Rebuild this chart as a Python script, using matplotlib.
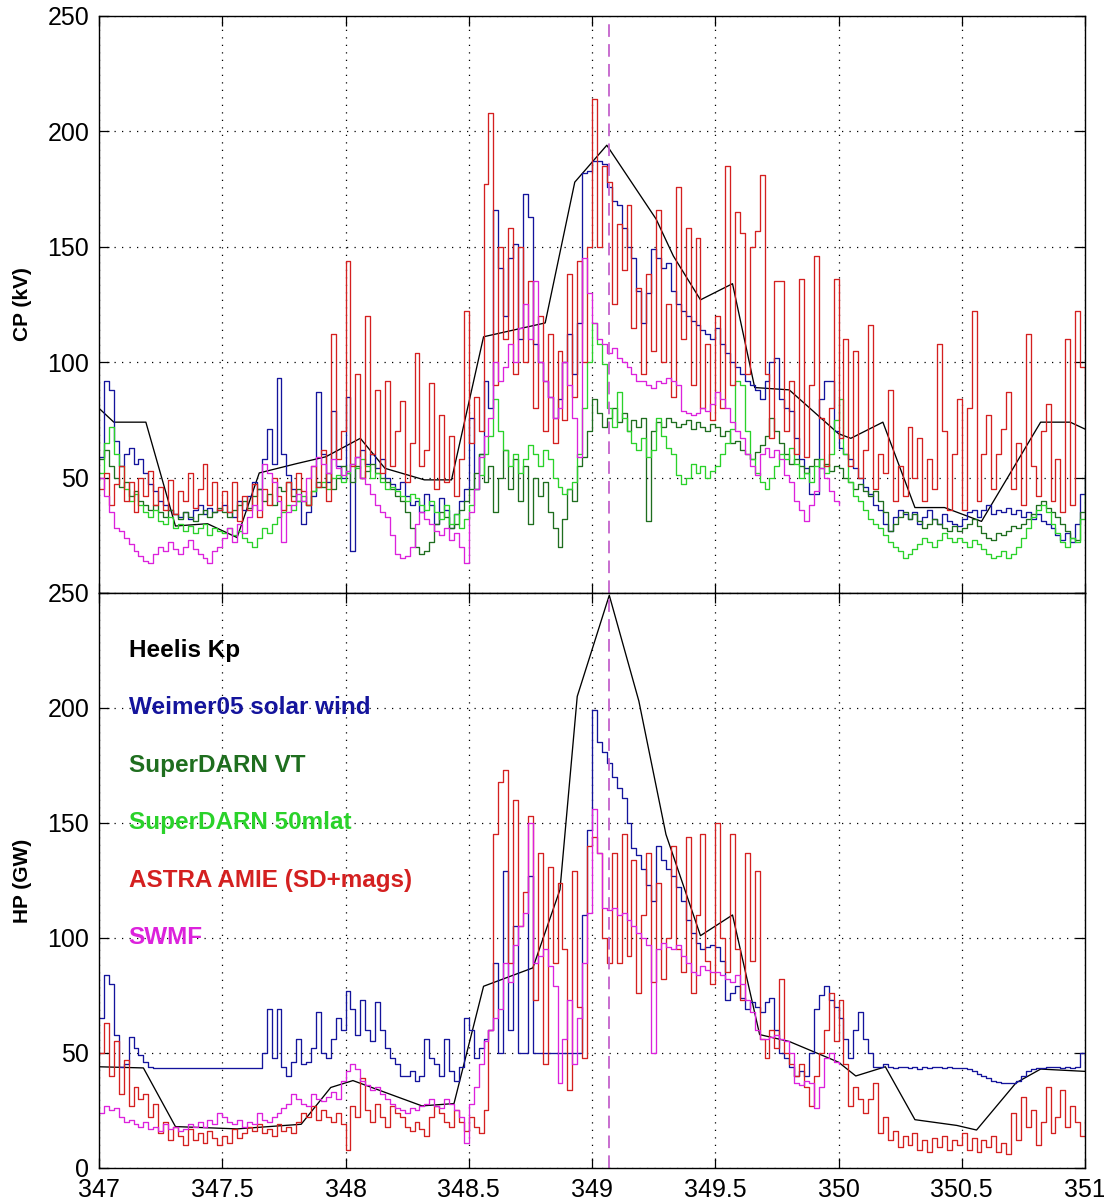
import numpy as np
import matplotlib
matplotlib.use("Agg")
import matplotlib.pyplot as plt

# cross polar cap potential (kV), samples every 0.02 day from day 347.0
cp_weimer = [59, 92, 88, 66, 55, 60, 63, 56, 58, 52, 47, 44, 40, 38, 36, 34, 33, 35, 32, 36, 38, 34, 37, 35, 36,
             38, 35, 33, 40, 36, 42, 48, 45, 58, 71, 56, 93, 60, 51, 45, 40, 30, 35, 42, 87, 60, 48, 79, 55, 50,
             85, 18, 59, 62, 56, 60, 54, 58, 50, 47, 45, 48, 42, 38, 40, 35, 43, 38, 30, 41, 36, 28, 34, 40, 45,
             76, 45, 60, 92, 80, 166, 141, 120, 145, 151, 110, 173, 163, 108, 100, 92, 85, 76, 84, 100, 112, 95, 117, 182, 183,
             187, 187, 186, 176, 170, 168, 158, 150, 145, 131, 117, 130, 149, 145, 141, 143, 131, 125, 122, 120, 118, 116, 114, 112, 110,
             115, 108, 104, 100, 98, 95, 92, 90, 88, 84, 92, 100, 102, 84, 80, 79, 67, 58, 54, 43, 43, 84, 92, 92, 70,
             63, 60, 58, 54, 50, 46, 43, 38, 36, 30, 27, 33, 36, 34, 32, 35, 30, 33, 36, 32, 30, 34, 31, 30, 29,
             32, 35, 36, 33, 36, 38, 34, 36, 35, 37, 34, 36, 33, 35, 32, 34, 31, 30, 28, 25, 23, 26, 22, 30, 43, 51]

cp_sd_vt = [58, 62, 55, 50, 46, 48, 42, 44, 40, 38, 36, 38, 35, 33, 36, 34, 32, 35, 33, 31, 34, 36, 33, 35, 37,
            35, 33, 36, 38, 40, 37, 42, 45, 40, 43, 38, 46, 44, 48, 42, 45, 40, 38, 44, 48, 46, 52, 45, 50, 55,
            52, 48, 55, 50, 53, 56, 52, 50, 48, 45, 42, 40, 35, 28, 20, 17, 18, 22, 30, 35, 33, 28, 30, 36, 40,
            45, 52, 60, 48, 55, 35, 50, 62, 45, 58, 40, 55, 30, 50, 42, 48, 35, 28, 20, 32, 45, 40, 55, 59, 70,
            84, 78, 72, 76, 80, 74, 78, 70, 75, 72, 76, 31, 70, 74, 72, 76, 74, 72, 73, 75, 71, 74, 72, 70, 73,
            72, 68, 70, 65, 66, 62, 60, 58, 61, 64, 68, 76, 70, 65, 60, 56, 58, 55, 52, 55, 58, 54, 56, 53, 55,
            54, 50, 48, 45, 47, 44, 42, 44, 40, 35, 27, 30, 33, 35, 32, 34, 31, 28, 30, 32, 30, 28, 27, 29, 27,
            28, 30, 32, 29, 26, 24, 23, 26, 25, 27, 29, 28, 30, 32, 34, 38, 40, 37, 35, 33, 30, 27, 24, 23, 35, 51]

cp_sd_50 = [52, 65, 72, 60, 55, 45, 40, 43, 38, 35, 33, 36, 31, 30, 33, 28, 30, 27, 29, 26, 28, 30, 25, 28, 27,
            26, 28, 25, 27, 24, 22, 20, 24, 28, 26, 30, 33, 35, 38, 36, 40, 42, 38, 44, 46, 48, 45, 50, 51, 48,
            52, 56, 54, 58, 55, 50, 52, 48, 45, 46, 44, 42, 40, 43, 41, 38, 36, 40, 35, 32, 38, 30, 34, 28, 32,
            38, 45, 51, 60, 68, 84, 70, 62, 55, 60, 52, 58, 64, 60, 55, 62, 58, 50, 46, 43, 45, 48, 60, 80, 100,
            117, 108, 99, 80, 72, 87, 76, 70, 65, 62, 67, 59, 62, 76, 68, 63, 60, 51, 47, 50, 56, 52, 55, 50, 53,
            55, 60, 65, 71, 92, 90, 70, 58, 52, 48, 45, 50, 55, 60, 58, 63, 56, 50, 52, 48, 55, 58, 52, 60, 75,
            84, 60, 48, 42, 40, 36, 32, 30, 28, 25, 22, 20, 18, 15, 17, 19, 21, 24, 22, 20, 23, 26, 24, 22, 24,
            22, 20, 23, 21, 19, 17, 15, 16, 18, 15, 17, 20, 24, 28, 33, 36, 38, 35, 30, 26, 22, 20, 24, 22, 32, 43]

cp_amie = [45, 52, 38, 47, 55, 40, 48, 35, 50, 42, 53, 38, 46, 36, 49, 34, 44, 40, 52, 37, 45, 56, 38, 48, 36,
           44, 35, 48, 31, 42, 36, 47, 33, 45, 38, 50, 42, 36, 48, 40, 52, 44, 38, 55, 46, 62, 40, 112, 58, 70,
           144, 55, 95, 50, 120, 60, 88, 52, 92, 55, 70, 83, 48, 65, 104, 55, 62, 91, 45, 77, 48, 68, 42, 58, 122,
           65, 85, 70, 177, 208, 90, 150, 110, 158, 95, 150, 100, 135, 80, 120, 70, 112, 65, 105, 75, 138, 85, 144, 100, 150,
           214, 150, 185, 178, 125, 160, 140, 168, 115, 132, 95, 138, 105, 166, 100, 125, 85, 176, 110, 158, 90, 154, 80, 108, 75,
           120, 80, 185, 90, 165, 156, 95, 150, 157, 181, 95, 67, 135, 135, 70, 92, 60, 136, 59, 90, 146, 76, 55, 80, 136,
           67, 110, 55, 105, 50, 62, 116, 45, 60, 52, 88, 40, 55, 42, 72, 50, 67, 40, 58, 45, 108, 70, 36, 60, 84,
           36, 80, 122, 40, 60, 77, 45, 60, 71, 87, 45, 65, 38, 112, 55, 42, 70, 82, 40, 58, 35, 110, 38, 122, 98, 76]

cp_swmf = [50, 42, 35, 28, 27, 24, 21, 18, 16, 14, 13, 17, 20, 18, 22, 19, 17, 20, 23, 19, 17, 15, 13, 18, 20,
           24, 28, 22, 30, 26, 33, 38, 36, 56, 52, 48, 40, 22, 35, 38, 43, 40, 50, 55, 59, 56, 52, 58, 54, 51,
           53, 56, 59, 50, 47, 43, 38, 35, 33, 25, 17, 15, 16, 20, 30, 35, 32, 30, 27, 25, 28, 23, 26, 20, 13,
           35, 45, 59, 68, 76, 100, 92, 98, 108, 100, 115, 125, 110, 135, 100, 92, 85, 76, 80, 100, 90, 76, 59, 145, 130,
           117, 110, 108, 104, 106, 102, 100, 98, 95, 92, 92, 90, 89, 92, 91, 93, 92, 90, 79, 78, 77, 78, 80, 79, 82,
           87, 84, 80, 74, 70, 67, 60, 55, 51, 60, 63, 59, 62, 58, 51, 48, 40, 36, 31, 38, 44, 54, 50, 44, 40,
           38]

# Heelis model driven by Kp: piecewise linear
kp_cp_days = [347.0, 347.06, 347.19, 347.31, 347.44, 347.56, 347.65, 347.80, 347.92, 348.06, 348.16,
              348.32, 348.43, 348.56, 348.81, 348.93, 349.06, 349.26, 349.33, 349.44, 349.57, 349.66,
              349.80, 350.0, 350.05, 350.18, 350.31, 350.43, 350.58, 350.82, 350.94, 351.0]
kp_cp = [80, 74, 74, 29, 30, 24, 52, 56, 59, 67, 54, 49, 49, 111, 117, 178, 194, 162, 146, 127, 134, 89,
         88, 69, 67, 74, 37, 37, 31, 74, 74, 71]

# hemispheric power (GW)
hp_weimer = [65, 84, 80, 58, 44, 45, 57, 52, 49, 46, 44, 43.5, 43.5, 43.5, 43.5, 43.5, 43.5, 43.5, 43.5, 43.5, 43.5, 43.5, 43.5, 43.5, 43.5,
             43.5, 43.5, 43.5, 43.5, 43.5, 43.5, 43.5, 43.5, 50, 69, 48, 69, 44, 40, 46, 56, 45, 46, 52, 68, 50, 48, 56, 65, 60,
             77, 69, 58, 73, 60, 55, 72, 60, 52, 48, 45, 40, 40, 42, 38, 40, 56, 48, 45, 40, 56, 42, 38, 44, 65,
             60, 48, 52, 56, 60, 89, 50, 129, 60, 105, 50, 50, 127, 50, 50, 50, 50, 50, 50, 50, 50, 50, 50, 110, 147,
             199, 185, 181, 176, 170, 165, 161, 150, 139, 136, 130, 123, 116, 140, 134, 130, 127, 122, 116, 108, 102, 98, 95, 96, 97,
             96, 90, 73, 76, 79, 74, 69, 72, 70, 68, 72, 74, 60, 50, 48, 44, 40, 42, 40, 50, 69, 75, 79, 73, 70,
             65, 56, 48, 60, 68, 56, 50, 44, 44, 45, 44, 43.5, 44, 44, 43.5, 44, 43, 44, 43.5, 44, 44, 43.5, 44, 43.5, 43.5,
             43.5, 43, 42, 41, 40, 39, 38, 37.5, 37, 37, 37, 38, 40, 42, 43, 43.5, 43.5, 44, 44, 44, 43.5, 44, 43.5, 44, 50, 43]

hp_amie = [50, 63, 40, 55, 32, 47, 27, 35, 30, 32, 22, 28, 15, 20, 12, 18, 14, 10, 17, 12, 15, 11, 16, 13, 10,
           14, 11, 17, 13, 15, 18, 16, 19, 15, 17, 14, 19, 16, 18, 15, 20, 24, 22, 27, 21, 25, 22, 20, 24, 19,
           8, 27, 22, 39, 25, 20, 28, 22, 18, 27, 24, 22, 18, 16, 20, 17, 14, 22, 27, 24, 20, 18, 25, 20, 16,
           22, 18, 15, 25, 60, 145, 168, 173, 89, 160, 105, 120, 153, 73, 137, 45, 131, 89, 124, 95, 34, 129, 70, 48, 140,
           144, 137, 100, 89, 137, 89, 145, 92, 134, 76, 110, 137, 81, 124, 82, 100, 140, 95, 85, 144, 76, 110, 145, 90, 80,
           150, 100, 85, 145, 95, 73, 137, 90, 129, 56, 48, 60, 52, 82, 50, 45, 40, 45, 35, 27, 40, 50, 60, 76, 55,
           73, 45, 27, 35, 30, 24, 30, 37, 15, 22, 12, 16, 9, 14, 10, 15, 8, 12, 7, 13, 9, 14, 8, 12, 10,
           15, 8, 13, 7, 12, 9, 14, 7, 11, 6, 24, 12, 31, 18, 25, 10, 20, 35, 15, 22, 34, 18, 27, 20, 14, 21]

hp_swmf = [24, 27, 25, 26, 22, 20, 21, 19, 18, 20, 17, 18, 16, 19, 17, 18, 16, 17, 19, 18, 20, 18, 21, 19, 24,
           22, 20, 19, 21, 18, 20, 19, 24, 21, 20, 22, 24, 26, 28, 32, 30, 28, 27, 32, 30, 29, 31, 33, 30, 38,
           42, 45, 43, 38, 36, 34, 35, 32, 30, 28, 26, 25, 24, 26, 25, 27, 28, 30, 27, 26, 30, 28, 25, 22, 11,
           28, 35, 45, 55, 60, 65, 69, 89, 81, 97, 105, 111, 150, 89, 92, 95, 88, 79, 37, 56, 73, 45, 65, 89, 111,
           156, 137, 113, 112, 113, 110, 111, 108, 105, 102, 100, 97, 50, 95, 98, 96, 95, 97, 92, 89, 85, 84, 88, 86, 85,
           85, 84, 82, 81, 84, 80, 73, 68, 60, 56, 56, 57, 58, 56, 55, 50, 37, 36, 38, 37, 26, 35, 48, 50, 46,
           45]

kp_hp_days = [347.0, 347.18, 347.31, 347.56, 347.82, 347.94, 348.03, 348.31, 348.44, 348.56, 348.76,
              348.87, 348.94, 349.07, 349.19, 349.30, 349.44, 349.57, 349.68, 349.80, 350.0, 350.07,
              350.19, 350.31, 350.48, 350.56, 350.72, 350.82, 351.0]
kp_hp = [44, 43.5, 18, 17, 19, 35, 38, 27, 28, 79, 87, 121, 205, 249, 203, 145, 101, 110, 58, 55, 46, 40,
         44, 21, 18.5, 16.5, 37, 43, 42]

labels = ["Heelis Kp", "Weimer05 solar wind", "SuperDARN VT", "SuperDARN 50mlat",
          "ASTRA AMIE (SD+mags)", "SWMF"]
colors = ["black", "#14149c", "#1f6e1f", "#2ad22a", "#d42020", "#dc22dc"]
label_y = [225, 200, 175, 150, 125, 100]
event_day = 349.07

xticks = [347, 347.5, 348, 348.5, 349, 349.5, 350, 350.5, 351]
xticklabels = ["347", "347.5", "348", "348.5", "349", "349.5", "350", "350.5", "351"]
yticks = [0, 50, 100, 150, 200, 250]

plt.rcParams["font.family"] = ["Liberation Sans", "DejaVu Sans"]


def days(vals):
    return 347 + 0.02 * np.arange(len(vals))


fig = plt.figure(figsize=(11.04, 12.02), dpi=100)
ax1 = fig.add_axes([0.0897, 0.5067, 0.8931, 0.4800])
ax2 = fig.add_axes([0.0897, 0.0283, 0.8931, 0.4784])

lw = 0.95
ax1.plot(kp_cp_days, kp_cp, color=colors[0], lw=lw)
for vals, c in zip([cp_weimer, cp_sd_vt, cp_sd_50, cp_amie, cp_swmf], colors[1:]):
    ax1.plot(days(vals), vals, color=c, lw=lw, drawstyle="steps-post")

ax2.plot(kp_hp_days, kp_hp, color=colors[0], lw=lw)
for vals, c in zip([hp_weimer, hp_amie, hp_swmf], [colors[1], colors[4], colors[5]]):
    ax2.plot(days(vals), vals, color=c, lw=lw, drawstyle="steps-post")

for ax in (ax1, ax2):
    ax.axvline(event_day, color="#c462cc", lw=1.3, ls=(0, (7, 4)))
    ax.set_xlim(347, 351)
    ax.set_ylim(0, 250)
    ax.set_xticks(xticks)
    ax.set_yticks(yticks)
    ax.grid(True, color="black", lw=0.9, ls=(0, (1, 5)))
    ax.tick_params(direction="in", length=7, width=0.9, top=True, right=True,
                   labelsize=18, pad=7)
    for s in ax.spines.values():
        s.set_linewidth(1.0)

ax1.set_xticklabels([])
ax1.set_yticklabels(["", "50", "100", "150", "200", "250"])
ax2.set_xticklabels(xticklabels)
ax2.set_yticklabels([str(v) for v in yticks])

ax1.set_ylabel("CP (kV)", fontsize=15, fontweight="bold")
ax2.set_ylabel("HP (GW)", fontsize=15, fontweight="bold")
ax1.yaxis.set_label_coords(-0.068, 0.5)
ax2.yaxis.set_label_coords(-0.068, 0.5)

for lab, c, y in zip(labels, colors, label_y):
    ax2.text(347.12, y, lab, color=c, fontsize=17.5, fontweight="bold",
             va="center", ha="left")

fig.savefig("out.png", dpi=100)
plt.close(fig)
